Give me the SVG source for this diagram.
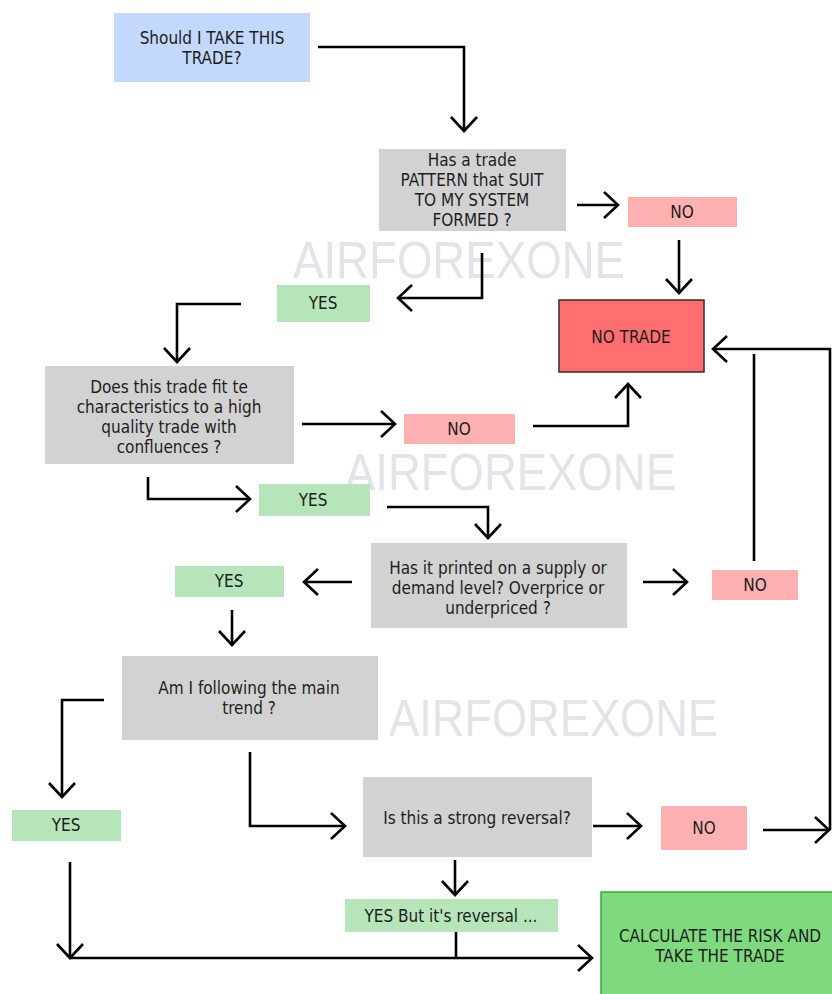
<svg xmlns="http://www.w3.org/2000/svg" width="832" height="994" viewBox="0 0 832 994">
<style>
  text { font-family: "DejaVu Sans Condensed", "DejaVu Sans", sans-serif; font-size: 17px; fill: #1e1e1e; text-anchor: middle; }
  .wm { font-family: "Liberation Sans", Arial, sans-serif; font-size: 51px; fill: #e3e3ea; text-anchor: start; }
  .blue { fill: #c2d8fd; }
  .gray { fill: #d2d2d2; }
  .no { fill: #ffb1b1; }
  .yes { fill: #b5e5b8; }
  .notrade { fill: #ff6f6f; stroke: #3a2a2a; stroke-width: 1.5; }
  .go { fill: #7fda7f; stroke: #2bb02b; stroke-width: 1.5; }
  .c { fill: none; stroke: #000; stroke-width: 2.6; }
  .ca { fill: none; stroke: #000; stroke-width: 2.6; marker-end: url(#arr); }
</style>
<defs>
  <marker id="arr" markerUnits="userSpaceOnUse" viewBox="-17 -16 20 32" markerWidth="20" markerHeight="32" refX="0" refY="0" orient="auto">
    <path d="M-14,-13 L0,0 L-14,13" fill="none" stroke="#000" stroke-width="2.6"/>
  </marker>
</defs>
<rect width="832" height="994" fill="#ffffff"/>
<g id="watermarks">
  <text class="wm" x="293" y="278" textLength="332" lengthAdjust="spacingAndGlyphs">AIRFOREXONE</text>
  <text class="wm" x="345" y="490" textLength="331" lengthAdjust="spacingAndGlyphs">AIRFOREXONE</text>
  <text class="wm" x="389" y="736" textLength="329" lengthAdjust="spacingAndGlyphs">AIRFOREXONE</text>
</g>
<g id="connectors">
  <path class="ca" d="M318,47 H464 V131"/>
  <path class="ca" d="M577,205 H618"/>
  <path class="ca" d="M679,240 V293"/>
  <path class="ca" d="M482,253 V298 H398"/>
  <path class="ca" d="M241,304 H177 V362"/>
  <path class="ca" d="M302,424 H395"/>
  <path class="ca" d="M533,426 H628 V384"/>
  <path class="ca" d="M148,477 V499 H250"/>
  <path class="ca" d="M387,507 H488 V538"/>
  <path class="ca" d="M352,582 H304"/>
  <path class="ca" d="M643,582 H687"/>
  <path class="c" d="M754,561 V354"/>
  <path class="ca" d="M830,830 V349 H713"/>
  <path class="ca" d="M763,830 H829"/>
  <path class="ca" d="M232,610 V645"/>
  <path class="ca" d="M104,700 H62 V797"/>
  <path class="ca" d="M250,752 V826 H345"/>
  <path class="ca" d="M593,826 H641"/>
  <path class="ca" d="M455,860 V895"/>
  <path class="ca" d="M70,862 V958"/>
  <path class="c" d="M456,932 V958"/>
  <path class="ca" d="M70,958 H592"/>
</g>
<g id="start">
  <rect class="blue" x="114" y="13" width="196" height="69"/>
  <text x="212" y="44">Should I TAKE THIS</text>
  <text x="212" y="64">TRADE?</text>
</g>
<g id="q-pattern">
  <rect class="gray" x="379" y="149" width="187" height="82"/>
  <text x="472" y="166">Has a trade</text>
  <text x="472" y="186">PATTERN that SUIT</text>
  <text x="472" y="206">TO MY SYSTEM</text>
  <text x="472" y="226">FORMED ?</text>
</g>
<g id="no-1">
  <rect class="no" x="628" y="197" width="109" height="30"/>
  <text x="682" y="218">NO</text>
</g>
<g id="no-trade">
  <rect class="notrade" x="559" y="300" width="145" height="72"/>
  <text x="631" y="343">NO TRADE</text>
</g>
<g id="yes-1">
  <rect class="yes" x="277" y="285" width="93" height="37"/>
  <text x="323" y="309">YES</text>
</g>
<g id="q-quality">
  <rect class="gray" x="45" y="366" width="249" height="98"/>
  <text x="169" y="393">Does this trade fit te</text>
  <text x="169" y="413">characteristics to a high</text>
  <text x="169" y="433">quality trade with</text>
  <text x="169" y="453">confluences ?</text>
</g>
<g id="no-2">
  <rect class="no" x="404" y="414" width="111" height="30"/>
  <text x="459" y="435">NO</text>
</g>
<g id="yes-2">
  <rect class="yes" x="259" y="484" width="111" height="32"/>
  <text x="313" y="506">YES</text>
</g>
<g id="q-level">
  <rect class="gray" x="371" y="543" width="256" height="85"/>
  <text x="498" y="574">Has it printed on a supply or</text>
  <text x="498" y="594">demand level? Overprice or</text>
  <text x="498" y="614">underpriced ?</text>
</g>
<g id="yes-3">
  <rect class="yes" x="175" y="566" width="109" height="31"/>
  <text x="229" y="587">YES</text>
</g>
<g id="no-3">
  <rect class="no" x="712" y="570" width="86" height="30"/>
  <text x="755" y="591">NO</text>
</g>
<g id="q-trend">
  <rect class="gray" x="122" y="656" width="256" height="84"/>
  <text x="249" y="694">Am I following the main</text>
  <text x="249" y="714">trend ?</text>
</g>
<g id="yes-4">
  <rect class="yes" x="12" y="810" width="109" height="31"/>
  <text x="66" y="831">YES</text>
</g>
<g id="q-reversal">
  <rect class="gray" x="363" y="777" width="229" height="80"/>
  <text x="477" y="824">Is this a strong reversal?</text>
</g>
<g id="no-4">
  <rect class="no" x="661" y="806" width="86" height="44"/>
  <text x="704" y="834">NO</text>
</g>
<g id="yes-reversal">
  <rect class="yes" x="345" y="899" width="213" height="33"/>
  <text x="451" y="922">YES But it's reversal ...</text>
</g>
<g id="take-trade">
  <rect class="go" x="601" y="892" width="240" height="110"/>
  <text x="720" y="942">CALCULATE THE RISK AND</text>
  <text x="720" y="962">TAKE THE TRADE</text>
</g>
</svg>
